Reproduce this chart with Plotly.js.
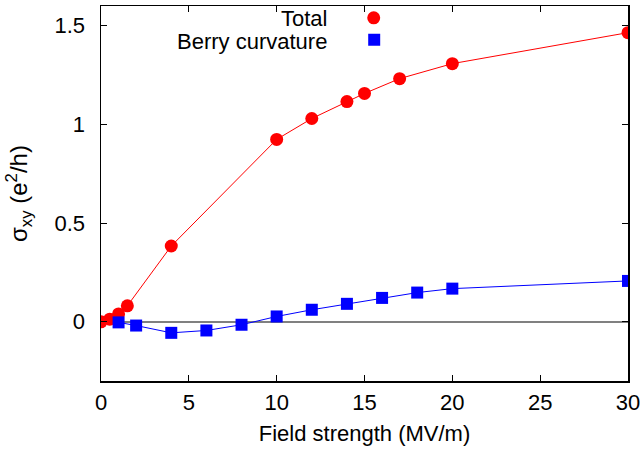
<!DOCTYPE html>
<html>
<head>
<meta charset="utf-8">
<script src="https://cdn.plot.ly/plotly-3.0.1.min.js"></script>
<style>html,body{margin:0;padding:0;background:#fff;}#chart{width:644px;height:456px;}</style>
</head>
<body>
<div id="chart"></div>
<script>
// Total Hall conductivity
const totalField = [0, 0.5, 1, 1.5, 4, 10, 12, 14, 15, 17, 20, 30];
const totalSigma = [0.0, 0.013, 0.04, 0.081, 0.384, 0.924, 1.03, 1.116, 1.157, 1.232, 1.308, 1.465];
// Berry curvature contribution
const berryField = [1, 2, 4, 6, 8, 10, 12, 14, 16, 18, 20, 30];
const berrySigma = [-0.003, -0.019, -0.056, -0.044, -0.015, 0.027, 0.061, 0.091, 0.121, 0.148, 0.168, 0.207];

const seriesNames = ['Total', 'Berry curvature'];
const seriesColors = ['#ff0000', '#0000ff'];
const xTickVals = [0, 5, 10, 15, 20, 25, 30];
const yTickVals = [0, 0.5, 1, 1.5];
const yTickText = ['0', '0.5', '1', '1.5'];

const font = 'Liberation Sans, Arial, sans-serif';

const traces = [
  {
    x: totalField, y: totalSigma, type: 'scatter', mode: 'lines+markers',
    name: seriesNames[0], showlegend: false, line: {color: seriesColors[0], width: 1},
    marker: {color: seriesColors[0], symbol: 'circle', size: 13}
  },
  {
    x: berryField, y: berrySigma, type: 'scatter', mode: 'lines+markers',
    name: seriesNames[1], showlegend: false, line: {color: seriesColors[1], width: 1},
    marker: {color: seriesColors[1], symbol: 'square', size: 12}
  }
];

const layout = {
  width: 644, height: 456,
  margin: {l: 101, r: 16, t: 6, b: 75},
  paper_bgcolor: '#fff', plot_bgcolor: '#fff',
  font: {family: font, size: 22, color: '#000'},
  showlegend: false,
  xaxis: {
    range: [0, 30], tickvals: xTickVals, ticks: 'inside', ticklen: 6,
    tickcolor: '#000', tickwidth: 1, showgrid: false, zeroline: false,
    showline: true, linecolor: '#000', linewidth: 1.5, mirror: 'ticks',
    tickfont: {size: 22}, ticklabelstandoff: 1,
    title: {text: 'Field strength (MV/m)', font: {size: 22}, standoff: 11}
  },
  yaxis: {
    range: [-0.3, 1.6], tickvals: yTickVals, ticktext: yTickText, ticks: 'inside', ticklen: 6,
    tickcolor: '#000', tickwidth: 1, showgrid: false,
    zeroline: true, zerolinecolor: '#808080', zerolinewidth: 1.5,
    showline: true, linecolor: '#000', linewidth: 1.5, mirror: 'ticks',
    tickfont: {size: 22}, ticklabelstandoff: 10,
    title: {text: 'σ<sub>xy</sub> (e<sup>2</sup>/h)', font: {size: 24}, standoff: 20}
  },
  annotations: [
    {xref: 'paper', yref: 'paper', x: 0.4298, y: 0.9665, xanchor: 'right', yanchor: 'middle',
     text: seriesNames[0], showarrow: false, borderpad: 0, font: {size: 22}},
    {xref: 'paper', yref: 'paper', x: 0.4298, y: 0.9065, xanchor: 'right', yanchor: 'middle',
     text: seriesNames[1], showarrow: false, borderpad: 0, font: {size: 22}}
  ],
  shapes: [
    {type: 'circle', xref: 'paper', yref: 'paper', xsizemode: 'pixel', ysizemode: 'pixel',
     xanchor: 0.5175, yanchor: 0.9685, x0: -6.5, x1: 6.5, y0: -6.5, y1: 6.5,
     fillcolor: seriesColors[0], line: {width: 0}},
    {type: 'rect', xref: 'paper', yref: 'paper', xsizemode: 'pixel', ysizemode: 'pixel',
     xanchor: 0.5184, yanchor: 0.910, x0: -6, x1: 6, y0: -6, y1: 6,
     fillcolor: seriesColors[1], line: {width: 0}}
  ]
};

Plotly.newPlot('chart', traces, layout, {staticPlot: true, displayModeBar: false});
</script>
</body>
</html>
